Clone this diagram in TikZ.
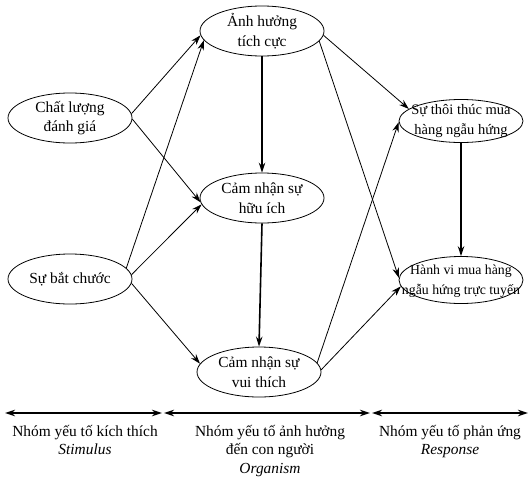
\documentclass[tikz,border=0pt]{standalone}
\usepackage{fontspec}
\setmainfont{Liberation Serif}
\usetikzlibrary{shapes.geometric,arrows.meta}
\begin{document}
\begin{tikzpicture}[x=1pt,y=-1pt,
  el/.style={ellipse,draw,line width=0.8pt,inner sep=0pt,minimum width=124pt,minimum height=50pt},
  txt/.style={align=center,inner sep=0pt,font=\fontsize{15.4}{19.5}\selectfont},
  thin/.style={line width=0.8pt,-{Stealth[length=10pt,width=6.5pt]}},
  thick/.style={line width=1.6pt,-{Stealth[length=10pt,width=6.5pt]}},
  span/.style={line width=1.6pt,{Stealth[length=10pt,width=6.5pt]}-{Stealth[length=10pt,width=6.5pt]}},
  lbl/.style={align=center,font=\fontsize{15.4}{18.5}\selectfont,inner sep=0pt}]
\useasboundingbox (0,0) rectangle (529,479);
\node[el] (ah) at (262,31) {};
\node[el] (cl) at (70,118) {};
\node[el] (hi) at (262,198) {};
\node[el] (sbc) at (70,279) {};
\node[el] (vt) at (259,372) {};
\node[el,minimum height=43pt] (tt) at (461,121) {};
\node[el,minimum height=47pt] (hv) at (461,280) {};
\node[txt] (aht) at (ah) {Ảnh hưởng\\tích cực};
\node[txt] (clt) at (cl) {Chất lượng\\đánh giá};
\node[txt] (hit) at (hi) {Cảm nhận sự\\hữu ích};
\node[txt] (sbct) at (sbc) {Sự bắt chước};
\node[txt] (vtt) at (vt) {Cảm nhận sự\\vui thích};
\node[txt,font=\fontsize{14.5}{19.5}\selectfont] (ttt) at (tt) {Sự thôi thúc mua\\hàng ngẫu hứng};
\node[txt,font=\fontsize{13.8}{19.5}\selectfont] (hvt) at (461,281) {Hành vi mua hàng\\ngẫu hứng trực tuyến};

\draw[thin] (cl.4) -- (ah.184);
\draw[thin] (cl.-1) -- (hi.184);
\draw[thin] (sbc.11) -- (ah.189);
\draw[thin] (sbc.4) -- (hi.186);
\draw[thin] (sbc.-4) -- (vt.172);
\draw[thick] (ah.south) -- (hi.north);
\draw[thick] (hi.south) -- (vt.north);
\draw[thin] (ah.-4) -- (tt.167);
\draw[thin] (ah.-10) -- (hv.178);
\draw[thin] (vt.9) -- (tt.181);
\draw[thin] (vt.2) -- (hv.186);
\draw[thick] (tt.south) -- (hv.north);

\coordinate (a1) at (5,413); \coordinate (a2) at (162,413);
\coordinate (b1) at (164,413); \coordinate (b2) at (370,413);
\coordinate (c1) at (372,413); \coordinate (c2) at (528,413);
\draw[span] (a1) -- (a2);
\draw[span] (b1) -- (b2);
\draw[span] (c1) -- (c2);
\node[lbl,anchor=north] (ls) at (85,425) {Nhóm yếu tố kích thích\\\textit{Stimulus}};
\node[lbl,anchor=north] (lo) at (270,425) {Nhóm yếu tố ảnh hưởng\\đến con người\\\textit{Organism}};
\node[lbl,anchor=north] (lr) at (450,425) {Nhóm yếu tố phản ứng\\\textit{Response}};
\end{tikzpicture}
\end{document}
